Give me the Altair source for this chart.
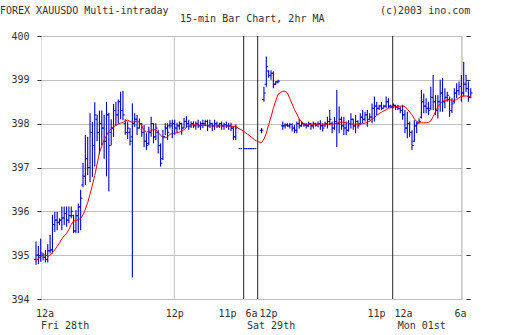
import altair as alt
import pandas as pd

# ---- data (one entry per 15-min bar slot; None = no bar) ----
high = [395.31, 395.21, 395.38, 395.05, 395.12, 395.25, 395.46, 395.92, 395.99, 395.99,
        395.84, 396.11, 396.11, 396.11, 396.11, 396.11, 395.92, 396.03, 396.18, 396.49,
        397.10, 397.74, 397.70, 398.24, 398.04, 398.49, 398.20, 398.30, 398.30, 398.20,
        398.50, 398.25, 398.10, 398.45, 398.50, 398.55, 398.73, 398.75, 398.10, 398.05,
        397.90, 398.46, 398.24, 398.20, 398.12, 398.01, 397.97, 397.78, 397.93, 398.16,
        398.01, 398.01, 397.86, 397.55, 397.86, 398.01, 398.01, 398.08, 398.09, 398.09,
        398.02, 398.05, 398.02, 398.13, 398.17, 398.09, 398.05, 398.05, 398.05, 398.09,
        398.05, 398.09, 398.09, 398.09, 398.09, 398.02, 398.09, 398.05, 398.02, 398.05,
        398.02, 398.05, 398.02, 398.02, 397.94, 397.98, None, 397.43, None, 397.43,
        397.43, 397.43, 397.43, 397.43, None, None, 397.90, 398.84, 399.53, 399.22,
        399.22, 399.19, 398.97, 399.00, None, 398.05, 398.01, 398.01, 398.02, 398.01,
        397.97, 398.05, 398.12, 398.05, 398.01, 398.01, 398.05, 398.01, 398.05, 398.02,
        398.05, 398.08, 398.01, 398.05, 398.16, 398.31, 398.05, 398.16, 398.77, 398.39,
        398.16, 398.16, 398.05, 398.08, 398.24, 398.12, 398.20, 398.08, 398.24, 398.31,
        398.27, 398.31, 398.24, 398.46, 398.62, 398.50, 398.43, 398.50, 398.43, 398.62,
        398.58, 398.43, 398.46, 398.43, 398.43, 398.39, 398.43, 398.31, 398.27, 398.05,
        397.85, 398.08, 398.05, 398.12, 398.77, 398.69, 398.58, 398.50, 398.84, 399.11,
        398.65, 398.65, 399.00, 399.04, 398.81, 398.73, 398.62, 398.58, 398.81, 398.92,
        398.96, 399.11, 399.41, 399.11, 398.96, 398.81]

low = [394.78, 394.80, 394.85, 394.88, 394.83, 394.83, 395.04, 395.04, 395.53, 395.57,
       395.69, 395.57, 395.69, 395.65, 395.73, 395.84, 395.50, 395.50, 395.50, 395.57,
       396.55, 396.60, 396.83, 396.67, 396.79, 397.02, 397.60, 397.30, 397.50, 397.20,
       396.80, 396.45, 397.50, 397.70, 397.95, 398.00, 398.10, 398.08, 397.75, 397.65,
       397.50, 394.49, 397.93, 397.74, 397.89, 397.70, 397.47, 397.40, 397.51, 397.70,
       397.55, 397.63, 397.32, 397.02, 397.17, 397.74, 397.63, 397.89, 397.67, 397.75,
       397.79, 397.86, 397.75, 397.90, 397.90, 397.86, 397.90, 397.90, 397.86, 397.90,
       397.86, 397.90, 397.94, 397.83, 397.90, 397.83, 397.86, 397.90, 397.90, 397.86,
       397.86, 397.90, 397.86, 397.83, 397.63, 397.63, None, 397.43, None, 397.43,
       397.43, 397.43, 397.43, 397.43, None, None, 397.78, 398.50, 398.84, 399.05,
       399.00, 398.81, 398.88, 398.92, None, 397.86, 397.89, 397.93, 397.89, 397.82,
       397.78, 397.78, 397.89, 397.93, 397.93, 397.89, 397.93, 397.86, 397.89, 397.93,
       397.92, 397.86, 397.82, 397.93, 397.89, 397.97, 397.78, 397.86, 397.47, 397.78,
       397.86, 397.74, 397.74, 397.82, 397.89, 397.86, 397.78, 397.89, 397.97, 398.01,
       398.05, 397.93, 398.08, 398.01, 398.05, 398.20, 398.31, 398.31, 398.35, 398.35,
       398.35, 398.35, 398.35, 398.31, 398.31, 398.24, 398.09, 397.78, 397.67, 397.70,
       397.40, 397.59, 397.78, 398.01, 398.12, 398.24, 398.24, 398.20, 398.31, 398.31,
       398.20, 398.12, 398.27, 398.27, 398.35, 398.50, 398.16, 398.24, 398.46, 398.58,
       398.65, 398.50, 398.62, 398.73, 398.50, 398.58]

open_ = [394.90, 395.00, 394.95, 395.00, 394.95, 394.90, 395.10, 395.12, 395.70, 395.80,
         395.75, 395.80, 395.85, 395.95, 395.80, 395.90, 395.90, 395.55, 395.90, 396.10,
         396.60, 396.80, 397.20, 397.00, 397.80, 397.50, 398.10, 397.80, 398.00, 397.90,
         397.60, 398.20, 397.80, 397.90, 398.30, 398.20, 398.50, 398.30, 398.00, 397.80,
         397.80, 397.70, 398.00, 398.10, 397.90, 398.00, 397.80, 397.60, 397.55, 397.80,
         398.00, 397.70, 397.80, 397.50, 397.20, 397.70, 397.90, 397.95, 397.95, 398.00,
         397.90, 397.95, 398.00, 397.90, 398.05, 398.00, 397.95, 398.00, 397.95, 398.00,
         397.95, 398.00, 398.00, 398.05, 397.95, 398.00, 397.95, 398.00, 397.95, 398.00,
         397.95, 397.98, 397.95, 397.95, 397.90, 397.70, None, 397.43, None, 397.43,
         397.43, 397.43, 397.43, 397.43, None, None, 397.85, 398.55, 398.90, 399.20,
         399.10, 399.15, 398.90, 398.95, None, 397.95, 397.95, 397.97, 397.95, 397.98,
         397.90, 397.85, 398.00, 397.95, 398.00, 397.97, 397.95, 398.00, 397.95, 398.00,
         397.97, 398.00, 397.95, 397.95, 398.00, 398.05, 398.00, 397.90, 398.05, 398.00,
         398.10, 397.95, 397.90, 397.85, 398.00, 398.10, 397.95, 398.05, 398.00, 398.15,
         398.10, 398.20, 398.10, 398.15, 398.35, 398.40, 398.35, 398.40, 398.35, 398.40,
         398.50, 398.40, 398.38, 398.42, 398.38, 398.35, 398.30, 398.20, 397.90, 398.00,
         397.80, 397.60, 397.95, 398.02, 398.15, 398.50, 398.40, 398.35, 398.35, 398.60,
         398.50, 398.30, 398.50, 398.70, 398.50, 398.60, 398.55, 398.30, 398.50, 398.70,
         398.75, 398.85, 398.70, 398.90, 398.80, 398.60]

close = [395.00, 394.95, 395.05, 394.95, 394.90, 395.10, 395.12, 395.70, 395.80, 395.75,
         395.80, 395.85, 395.95, 395.80, 395.90, 396.00, 395.55, 395.90, 396.10, 396.30,
         396.80, 397.20, 397.00, 397.80, 397.50, 398.20, 397.80, 398.00, 397.90, 397.60,
         398.20, 397.50, 397.90, 398.30, 398.20, 398.50, 398.30, 398.20, 397.80, 397.90,
         397.60, 398.00, 398.10, 397.90, 398.00, 397.80, 397.60, 397.50, 397.80, 398.00,
         397.70, 397.90, 397.50, 397.10, 397.70, 397.90, 397.80, 398.00, 398.00, 397.90,
         397.95, 398.00, 397.90, 398.05, 398.00, 397.95, 398.00, 397.95, 398.00, 397.95,
         398.00, 398.00, 398.05, 397.95, 398.00, 397.95, 398.00, 397.95, 398.00, 397.95,
         397.98, 397.95, 397.95, 397.90, 397.70, 397.90, None, 397.43, None, 397.43,
         397.43, 397.43, 397.43, 397.43, None, None, 397.85, 398.70, 399.30, 399.10,
         399.15, 398.90, 398.95, 398.97, None, 397.95, 397.97, 397.95, 397.98, 397.90,
         397.85, 398.00, 397.95, 398.00, 397.97, 397.95, 398.00, 397.95, 398.00, 397.97,
         398.00, 397.95, 397.90, 398.00, 398.05, 398.10, 397.90, 398.05, 398.00, 398.10,
         397.95, 397.90, 397.85, 398.00, 398.10, 397.95, 398.05, 397.95, 398.15, 398.10,
         398.20, 398.05, 398.15, 398.35, 398.40, 398.35, 398.40, 398.35, 398.40, 398.50,
         398.40, 398.38, 398.42, 398.38, 398.35, 398.30, 398.20, 397.90, 398.00, 397.80,
         397.50, 397.95, 398.00, 398.05, 398.50, 398.40, 398.35, 398.30, 398.60, 398.50,
         398.30, 398.50, 398.70, 398.50, 398.60, 398.65, 398.30, 398.45, 398.70, 398.75,
         398.85, 398.70, 398.90, 398.80, 398.60, 398.70]

ma_2hr = [394.88, 394.92, 394.96, 395.00, 395.01, 394.97, 395.00, 395.06, 395.12, 395.20,
          395.28, 395.37, 395.44, 395.49, 395.59, 395.70, 395.78, 395.79, 395.81, 395.84,
          395.92, 396.05, 396.20, 396.39, 396.60, 396.82, 397.08, 397.34, 397.49, 397.63,
          397.73, 397.83, 397.89, 397.93, 397.96, 397.99, 398.01, 398.03, 398.06, 398.08,
          398.05, 398.03, 398.04, 398.06, 398.03, 397.95, 397.85, 397.81, 397.82, 397.85,
          397.86, 397.86, 397.80, 397.74, 397.68, 397.68, 397.70, 397.76, 397.77, 397.78,
          397.79, 397.81, 397.83, 397.86, 397.92, 397.96, 397.97, 397.97, 397.97, 397.97,
          397.96, 397.96, 397.96, 397.96, 397.95, 397.95, 397.95, 397.95, 397.95, 397.95,
          397.95, 397.95, 397.95, 397.94, 397.94, 397.94, 397.90, 397.87, 397.84, 397.80,
          397.76, 397.72, 397.68, 397.63, 397.60, 397.58, 397.57, 397.65, 397.78, 397.98,
          398.15, 398.35, 398.52, 398.67, 398.71, 398.74, 398.74, 398.70, 398.57, 398.45,
          398.32, 398.22, 398.11, 398.04, 398.00, 397.99, 397.99, 397.99, 397.99, 397.99,
          397.99, 397.99, 397.99, 397.99, 397.99, 397.99, 397.99, 397.99, 398.01, 398.03,
          398.04, 398.03, 398.02, 398.01, 398.00, 397.99, 397.99, 397.99, 397.99, 398.00,
          398.01, 398.03, 398.06, 398.10, 398.14, 398.19, 398.23, 398.26, 398.29, 398.32,
          398.35, 398.37, 398.38, 398.39, 398.40, 398.40, 398.40, 398.39, 398.33, 398.27,
          398.20, 398.11, 398.05, 398.02, 398.02, 398.02, 398.02, 398.03, 398.06, 398.16,
          398.27, 398.38, 398.46, 398.51, 398.53, 398.54, 398.54, 398.54, 398.53, 398.55,
          398.59, 398.62, 398.63, 398.63, 398.62, 398.62]

tick_slots = [3.62, 58.85, 81.28, 91.49, 98.72, 144.68, 156.17, 180.43]
tick_text = ["12a", "12p", "11p", "6a", "12p", "11p", "12a", "6a"]
day_slots = [2.13, 89.79, 153.9]
day_text = ["Fri 28th", "Sat 29th", "Mon 01st"]
grid_slots = [58.85, 181.15]
session_slots = [88.38, 94.34, 151.79]
y_ticks = [394, 395, 396, 397, 398, 399, 400]
title_left = "FOREX XAUUSDO Multi-intraday"
title_mid = "15-min Bar Chart, 2hr MA"
title_right = "(c)2003 ino.com"

# ---- styling ----
FONT = "DejaVu Sans Mono"
TXT = "#333333"
BLUE = "#0000cc"
RED = "#ff0000"
GRID = "#c0c0c0"
W, H = 421, 263
X_MIN, X_MAX = 2.1277, 181.277

bars = pd.DataFrame({"slot": list(range(len(high))), "high": high, "low": low,
                     "open": open_, "close": close}).dropna()
ma_df = pd.DataFrame({"slot": list(range(len(ma_2hr))), "ma": ma_2hr})
grid_df = pd.DataFrame({"slot": grid_slots})
sess_df = pd.DataFrame({"slot": session_slots})
day_df = pd.DataFrame({"slot": day_slots, "label": day_text})

expr = ""
for i in range(len(tick_slots) - 1):
    thr = (tick_slots[i] + tick_slots[i + 1]) / 2
    expr += f"datum.value < {thr} ? '{tick_text[i]}' : "
expr += f"'{tick_text[-1]}'"

xs = alt.Scale(domain=[X_MIN, X_MAX], nice=False, zero=False)
ys = alt.Scale(domain=[394, 400], nice=False, zero=False)
x_axis = alt.Axis(values=tick_slots, labelExpr=expr, grid=False, ticks=False, tickSize=0,
                  domain=False, labelPadding=9, labelFont=FONT, labelFontSize=10,
                  labelColor=TXT, labelOverlap=False, labelFlush=False, title=None)
y_left = alt.Axis(values=y_ticks, format="d", grid=True, gridColor=GRID, gridOpacity=1,
                  tickColor=TXT, tickSize=4, domain=False, labelPadding=8, labelFont=FONT,
                  labelFontSize=10, labelColor=TXT, title=None, orient="left")
y_right = alt.Axis(values=y_ticks, labels=False, grid=False, tickColor=TXT, tickSize=4,
                   domain=False, offset=4, orient="right", title=None)

X = lambda f: alt.X(f, type="quantitative", scale=xs, axis=x_axis)

vgrid = alt.Chart(grid_df).mark_rule(color=GRID, strokeWidth=1).encode(
    x=X("slot"), y=alt.value(0), y2=alt.value(H))
vsess = alt.Chart(sess_df).mark_rule(color="#222222", strokeWidth=1).encode(
    x=X("slot"), y=alt.value(0), y2=alt.value(H))

hl = alt.Chart(bars).mark_rule(color=BLUE, strokeWidth=1.1).encode(
    x=X("slot"), y=alt.Y("low:Q", scale=ys, axis=y_left), y2="high:Q")
opens = alt.Chart(bars).transform_calculate(xo="datum.slot - 0.75").mark_rule(
    color=BLUE, strokeWidth=1).encode(
    x=X("xo"), x2="slot:Q", y=alt.Y("open:Q", scale=ys, axis=y_right))
closes = alt.Chart(bars).transform_calculate(xc="datum.slot + 0.75").mark_rule(
    color=BLUE, strokeWidth=1).encode(
    x=X("slot"), x2="xc:Q", y=alt.Y("close:Q", scale=ys, axis=None))
ma_line = alt.Chart(ma_df).mark_line(color=RED, strokeWidth=1).encode(
    x=X("slot"), y=alt.Y("ma:Q", scale=ys, axis=None))

days = alt.Chart(day_df).mark_text(align="left", baseline="middle", font=FONT,
                                   fontSize=10, color=TXT).encode(
    x=X("slot"), y=alt.value(289.8), text="label:N")

def title_text(t, xv, yv, align="left"):
    return alt.Chart(pd.DataFrame({"t": [t]})).mark_text(
        align=align, baseline="middle", font=FONT, fontSize=10, color=TXT).encode(
        text="t:N", x=alt.value(xv), y=alt.value(yv))

t1 = title_text(title_left, -41, -25.5)
t2 = title_text(title_mid, 139, -17)
t3 = title_text(title_right, 339, -25.5)

chart = alt.layer(vgrid, vsess, hl, opens, closes, ma_line, days, t1, t2, t3).resolve_axis(
    y="independent"
).properties(
    width=W, height=H,
    autosize=alt.AutoSizeParams(type="none"),
    padding={"left": 41, "top": 36, "right": 50, "bottom": 36},
).configure_view(stroke=None).configure(background="white")

chart.save("out.html", embed_options={"renderer": "svg", "actions": False})
